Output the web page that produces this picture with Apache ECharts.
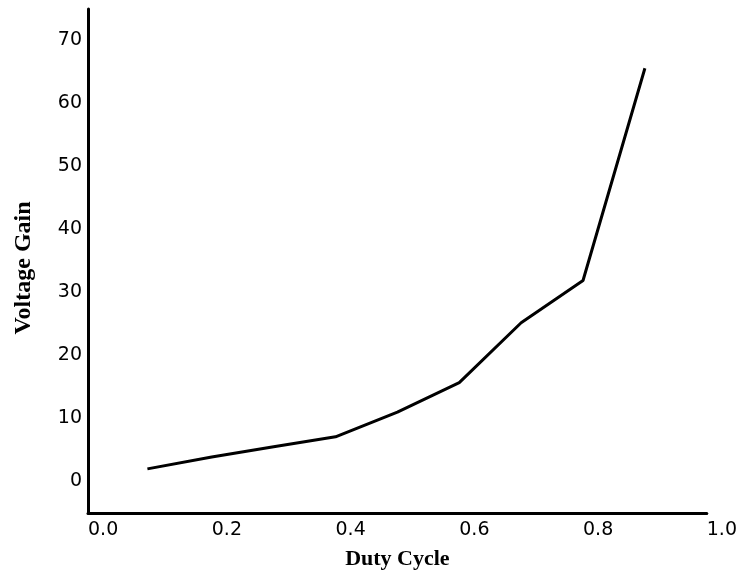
<!DOCTYPE html>
<html>
<head>
<meta charset="utf-8">
<title>Voltage Gain vs Duty Cycle</title>
<script src="https://cdn.jsdelivr.net/npm/echarts@6/dist/echarts.min.js"></script>
<style>
  html, body { margin: 0; padding: 0; background: #ffffff; }
  #chart { width: 740px; height: 575px; }
</style>
</head>
<body>
<div id="chart"></div>
<script>
// Duty cycle (x) and the resulting voltage gain (y)
const dutyCycle = [0.096, 0.2, 0.3, 0.4, 0.5, 0.6, 0.7, 0.8, 0.9];
const voltageGain = [2.0, 3.9, 5.5, 7.1, 11.0, 15.7, 25.2, 31.9, 65.6];

// Axis ranges and tick spacing
const xRange = [0, 1];
const xStep = 0.2;
const yRange = [-5, 75];
const yStep = 10;

const chart = echarts.init(document.getElementById('chart'), null, { renderer: 'canvas' });

const points = dutyCycle.map((d, i) => [d, voltageGain[i]]);

const tickFont = {
  color: '#000000',
  fontFamily: 'DejaVu Sans, Verdana, sans-serif',
  fontSize: 19
};
const titleFont = {
  color: '#000000',
  fontFamily: 'Liberation Serif, Times New Roman, serif',
  fontWeight: 'bold'
};

chart.setOption({
  animation: false,
  backgroundColor: '#ffffff',
  grid: { left: 88, right: 31, top: 9, bottom: 62, containLabel: false },
  xAxis: {
    type: 'value',
    min: xRange[0],
    max: xRange[1],
    interval: xStep,
    name: 'Duty Cycle',
    nameLocation: 'middle',
    nameGap: 35,
    nameTextStyle: Object.assign({ fontSize: 22 }, titleFont),
    axisLine: { show: true, onZero: false, lineStyle: { color: '#000000', width: 3 } },
    axisTick: { show: false },
    splitLine: { show: false },
    axisLabel: Object.assign({
      align: 'left',
      margin: 8,
      formatter: v => v.toFixed(1)
    }, tickFont)
  },
  yAxis: {
    type: 'value',
    min: yRange[0],
    max: yRange[1],
    splitNumber: (yRange[1] - yRange[0]) / yStep,
    name: 'Voltage Gain',
    nameLocation: 'middle',
    nameRotate: 90,
    nameGap: 52,
    nameTextStyle: Object.assign({ fontSize: 24, padding: [0, 14, 0, 0] }, titleFont),
    axisLine: { show: true, onZero: false, lineStyle: { color: '#000000', width: 3 } },
    axisTick: { show: false },
    splitLine: { show: false },
    axisLabel: Object.assign({
      margin: 6,
      showMinLabel: false,
      showMaxLabel: false,
      formatter: v => (Math.abs(v % yStep) < 1e-9 ? String(v) : '')
    }, tickFont)
  },
  series: [{
    type: 'line',
    data: points,
    symbol: 'none',
    smooth: false,
    lineStyle: { color: '#000000', width: 3 }
  }]
});
</script>
</body>
</html>
